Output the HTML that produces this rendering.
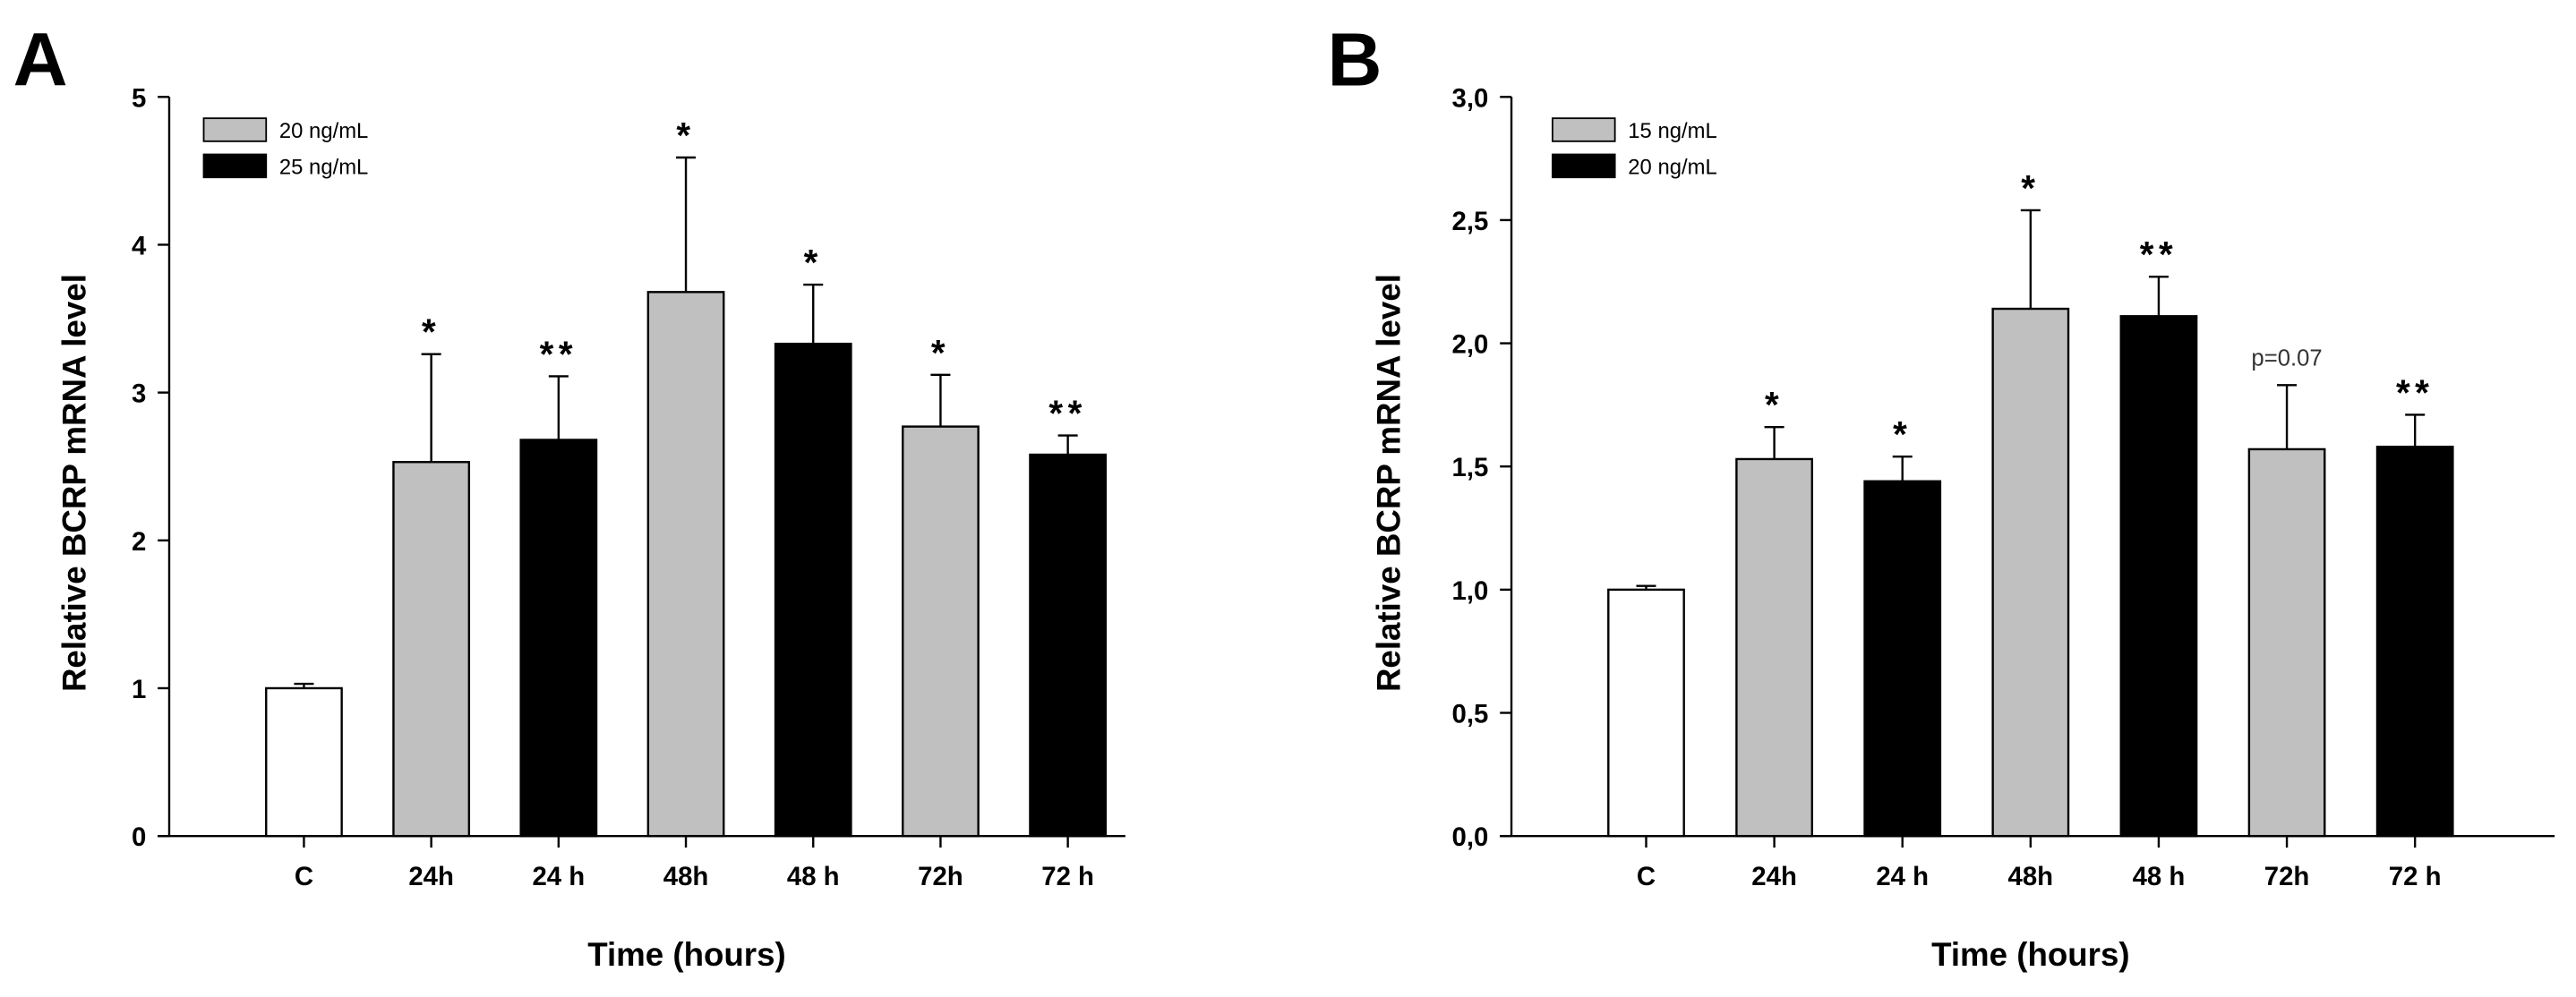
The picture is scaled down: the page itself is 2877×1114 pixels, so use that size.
<!DOCTYPE html>
<html><head><meta charset="utf-8"><style>
html,body{margin:0;padding:0;background:#fff;}
svg{display:block;font-family:"Liberation Sans",Arial,sans-serif;}
</style></head><body>
<svg id="fig" width="2877" height="1114" viewBox="0 0 1568 607" preserveAspectRatio="none" xmlns="http://www.w3.org/2000/svg"></svg>
<script>
const categories = ["C","24h","24 h","48h","48 h","72h","72 h"];
const fills = ["#fff","#c0c0c0","#000","#c0c0c0","#000","#c0c0c0","#000"];
const valuesA = [1.0,2.53,2.68,3.68,3.33,2.77,2.58];
const errTopA = [1.03,3.26,3.11,4.59,3.73,3.12,2.71];
const starsA = ["","*","**","*","*","*","**"];
const ticksA = [0,1,2,3,4,5];
const tickLabelsA = ["0","1","2","3","4","5"];
const legendA = ["20 ng/mL","25 ng/mL"];
const valuesB = [1.0,1.53,1.44,2.14,2.11,1.57,1.58];
const errTopB = [1.015,1.66,1.54,2.54,2.27,1.83,1.71];
const starsB = ["","*","*","*","**","p=0.07","**"];
const ticksB = [0,0.5,1,1.5,2,2.5,3];
const tickLabelsB = ["0,0","0,5","1,0","1,5","2,0","2,5","3,0"];
const legendB = ["15 ng/mL","20 ng/mL"];

const svg = document.getElementById('fig');
const NS = "http://www.w3.org/2000/svg";
function mk(tag, attrs, text){
  const e = document.createElementNS(NS, tag);
  for (const k in attrs) e.setAttribute(k, attrs[k]);
  if (text !== undefined) e.textContent = text;
  svg.appendChild(e);
  return e;
}
function panel(o){
  const y = v => o.y0 - (v/o.ymax)*(o.y0-o.ytop);
  const x = i => o.x0c + i*o.step;
  let e;
  e = mk('text',{x:o.letterX,y:52,'font-size':46,'font-weight':'bold'},o.letter);
  
  
  o.values.forEach((v,i)=>{
    const cx = x(i);
    const et = y(o.err[i]);
    e = mk('line',{x1:cx,y1:y(v),x2:cx,y2:et,stroke:'#000','stroke-width':1.3});
    
    
    e = mk('line',{x1:cx-6,y1:et,x2:cx+6,y2:et,stroke:'#000','stroke-width':1.3});
    
    
    e = mk('rect',{x:cx-23,y:y(v),width:46,height:o.y0-y(v),fill:fills[i],stroke:'#000','stroke-width':1.3});
    
    
    if (o.stars[i]){
      const isP = o.stars[i].startsWith('p');
      e = mk('text',{x:cx,y:et-(isP?12:6),'text-anchor':'middle','font-size':isP?14:22,'font-weight':isP?'normal':'bold','letter-spacing':isP?0:3,fill:isP?'#333':'#000'},o.stars[i]);
      
      
    }
    e = mk('line',{x1:cx,y1:o.y0,x2:cx,y2:o.y0+7,stroke:'#000','stroke-width':1.3});
    
    
    e = mk('text',{x:cx,y:o.y0+30,'text-anchor':'middle','font-size':16,'font-weight':'bold'},categories[i]);
    
    
  });
  e = mk('line',{x1:o.ax,y1:o.ytop,x2:o.ax,y2:o.y0,stroke:'#000','stroke-width':1.3});
  
  
  e = mk('line',{x1:o.ax-7,y1:o.y0,x2:o.axEnd,y2:o.y0,stroke:'#000','stroke-width':1.3});
  
  
  o.ticks.forEach((t,j)=>{
    e = mk('line',{x1:o.ax-7,y1:y(t),x2:o.ax,y2:y(t),stroke:'#000','stroke-width':1.3});
    
    
    e = mk('text',{x:o.ax-14,y:y(t)+6,'text-anchor':'end','font-size':16,'font-weight':'bold'},o.tickLabels[j]);
    
    
  });
  e = mk('text',{x:o.xtx,y:588,'text-anchor':'middle','font-size':20,'font-weight':'bold'},'Time (hours)');
  
  
  e = mk('text',{x:0,y:0,'text-anchor':'middle','font-size':20,'font-weight':'bold',transform:`translate(${o.ytx},${(o.ytop+o.y0)/2+10}) rotate(-90)`},'Relative BCRP mRNA level');
  
  
  o.legend.forEach((l,k)=>{
    e = mk('rect',{x:o.lx,y:72+k*22,width:38,height:14,fill:k?'#000':'#c0c0c0',stroke:'#000','stroke-width':1});
    
    
    e = mk('text',{x:o.lx+46,y:84+k*22,'font-size':13},l);
    
    
  });
}
panel({letter:'A',letterX:8,ax:103,axEnd:685,y0:509,ytop:59,ymax:5,x0c:185,step:77.5,values:valuesA,err:errTopA,stars:starsA,ticks:ticksA,tickLabels:tickLabelsA,legend:legendA,lx:124,ytx:52,xtx:418});
panel({letter:'B',letterX:808,ax:920,axEnd:1555,y0:509,ytop:59,ymax:3,x0c:1002,step:78,values:valuesB,err:errTopB,stars:starsB,ticks:ticksB,tickLabels:tickLabelsB,legend:legendB,lx:945,ytx:852,xtx:1236});
</script>
</body></html>
